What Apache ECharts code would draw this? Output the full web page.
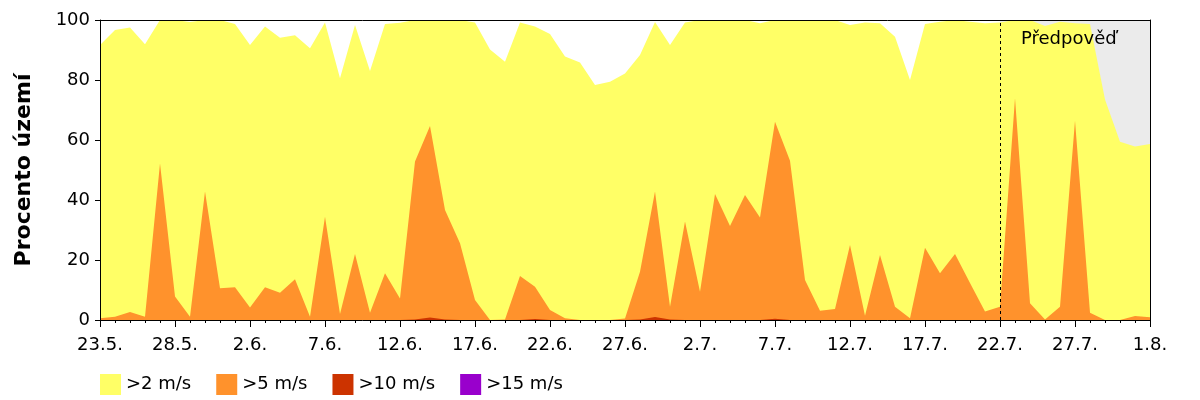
<!DOCTYPE html>
<html>
<head>
<meta charset="utf-8">
<script src="https://cdn.jsdelivr.net/npm/echarts@6/dist/echarts.min.js"></script>
<style>
  html, body { margin: 0; padding: 0; background: #fff; }
  #chart { width: 1200px; height: 400px; }
</style>
</head>
<body>
<div id="chart"></div>
<script>
// dny 23.5. - 1.8.
var dates = [
    '23.5.', '24.5.', '25.5.', '26.5.', '27.5.', '28.5.', '29.5.', '30.5.', '31.5.',
    '1.6.', '2.6.', '3.6.', '4.6.', '5.6.', '6.6.', '7.6.', '8.6.', '9.6.', '10.6.',
    '11.6.', '12.6.', '13.6.', '14.6.', '15.6.', '16.6.', '17.6.', '18.6.', '19.6.', '20.6.',
    '21.6.', '22.6.', '23.6.', '24.6.', '25.6.', '26.6.', '27.6.', '28.6.', '29.6.', '30.6.',
    '1.7.', '2.7.', '3.7.', '4.7.', '5.7.', '6.7.', '7.7.', '8.7.', '9.7.', '10.7.',
    '11.7.', '12.7.', '13.7.', '14.7.', '15.7.', '16.7.', '17.7.', '18.7.', '19.7.', '20.7.',
    '21.7.', '22.7.', '23.7.', '24.7.', '25.7.', '26.7.', '27.7.', '28.7.', '29.7.', '30.7.',
    '31.7.', '1.8.'
];
var legendNames = ['>2 m/s', '>5 m/s', '>10 m/s', '>15 m/s'];
var forecastStart = '22.7.';
var forecastEnd = '1.8.';
var forecastText = 'Předpověď';

// procento území
var over2 = [
    91.7, 96.7, 97.5, 91.9, 100, 100, 99.3, 100, 100, 98.7,
    91.7, 97.8, 94.1, 94.9, 90.6, 99.2, 80.6, 98.3, 83, 98.7,
    99.1, 100, 100, 100, 100, 99.2, 90.2, 86.1, 99.2, 97.8,
    95.3, 87.8, 85.8, 78.3, 79.4, 82.2, 88.3, 99.3, 91.7, 99.2,
    100, 100, 100, 100, 98.9, 100, 100, 100, 99.7, 100,
    98.3, 99.2, 98.9, 94.4, 80, 98.7, 99.4, 100, 99.4, 98.9,
    99.2, 100, 100, 98, 99.4, 98.9, 98.7, 73.5, 59.4, 57.8,
    58.7
];
var over5 = [
    0.6, 1.1, 2.7, 1.1, 52.2, 7.8, 1.1, 42.8, 10.6, 10.9,
    4.2, 10.9, 9.1, 13.6, 1.1, 34.4, 2, 22, 2.4, 15.6,
    7.2, 52.8, 64.7, 36.7, 25.6, 6.7, 0, 0.2, 14.7, 11.1,
    3.3, 0.6, 0, 0, 0, 0.5, 16.1, 42.8, 4.4, 32.8,
    9.4, 42, 31.3, 41.7, 34.2, 66.1, 53.1, 13.3, 3.1, 3.7,
    25, 1.4, 21.7, 4.4, 0.6, 24.1, 15.6, 22, 12.3, 2.8,
    4.4, 73.9, 5.6, 0.2, 4.4, 66.4, 2.4, 0, 0, 1.3,
    0.9
];
var over10 = [
    0, 0, 0, 0, 0, 0, 0, 0, 0, 0,
    0, 0, 0, 0, 0, 0, 0, 0, 0, 0,
    0, 0.2, 0.8, 0.2, 0, 0, 0, 0, 0, 0.3,
    0, 0, 0, 0, 0, 0, 0.2, 1.0, 0.2, 0,
    0, 0, 0, 0, 0, 0.4, 0, 0, 0, 0,
    0, 0, 0, 0, 0, 0, 0, 0, 0, 0,
    0, 0, 0, 0, 0, 0, 0, 0, 0, 0,
    0
];
var over15 = [
    0, 0, 0, 0, 0, 0, 0, 0, 0, 0,
    0, 0, 0, 0, 0, 0, 0, 0, 0, 0,
    0, 0, 0, 0, 0, 0, 0, 0, 0, 0,
    0, 0, 0, 0, 0, 0, 0, 0, 0, 0,
    0, 0, 0, 0, 0, 0, 0, 0, 0, 0,
    0, 0, 0, 0, 0, 0, 0, 0, 0, 0,
    0, 0, 0, 0, 0, 0, 0, 0, 0, 0,
    0
];

var colors = ['#ffff66', '#ff922c', '#cc3300', '#9900cc'];
var font = 'DejaVu Sans';

// plocha jedne rady
function areaSeries(name, data, color){
    return {
        name: name,
        type: 'line',
        data: data,
        showSymbol: false,
        symbol: 'none',
        silent: true,
        lineStyle: { width: 0 },
        itemStyle: { color: color },
        areaStyle: { color: color, opacity: 1 }
    };
}

var series = [
    areaSeries(legendNames[0], over2, colors[0]),
    areaSeries(legendNames[1], over5, colors[1]),
    areaSeries(legendNames[2], over10, colors[2]),
    areaSeries(legendNames[3], over15, colors[3])
];
// sede pozadi predpovedi
series[0].markArea = {
    silent: true,
    itemStyle: { color: '#ebebeb' },
    label: { show: false },
    data: [[{ xAxis: forecastStart }, { xAxis: forecastEnd }]]
};
// zacatek predpovedi
series[3].markLine = {
    silent: true,
    symbol: 'none',
    label: { show: false },
    lineStyle: { color: '#000', width: 1, type: [3, 3] },
    data: [{ xAxis: forecastStart }]
};

var chart = echarts.init(document.getElementById('chart'));
var option = {
    animation: false,
    textStyle: { fontFamily: font },
    grid: { left: 100, right: 50, top: 20, bottom: 80, outerBoundsMode: 'none' },
    legend: {
        left: 95,
        top: 369,
        icon: 'rect',
        itemWidth: 21,
        itemHeight: 21,
        itemGap: 25,
        selectedMode: false,
        textStyle: { fontFamily: font, fontSize: 18, color: '#000' },
        data: legendNames
    },
    xAxis: [
        {
            type: 'category',
            data: dates,
            position: 'bottom',
            boundaryGap: false,
            z: 10,
            axisLine: { lineStyle: { color: '#000', width: 1 } },
            axisTick: { interval: 0, length: 3, lineStyle: { color: '#000' } },
            axisLabel: { show: false },
            splitLine: { show: false }
        },
        {
            type: 'category',
            data: dates,
            position: 'bottom',
            boundaryGap: false,
            z: 10,
            axisLine: { show: false },
            axisTick: { interval: 4, length: 7, lineStyle: { color: '#000' } },
            axisLabel: { interval: 4, margin: 16, fontFamily: font, fontSize: 18, color: '#000' },
            splitLine: { show: false }
        },
        {
            type: 'category',
            data: dates,
            position: 'top',
            boundaryGap: false,
            z: 10,
            axisLine: { lineStyle: { color: '#000', width: 1 } },
            axisTick: { show: false },
            axisLabel: { show: false },
            splitLine: { show: false }
        }
    ],
    yAxis: [
        {
            type: 'value',
            min: 0,
            max: 100,
            interval: 20,
            z: 10,
            name: 'Procento území',
            nameLocation: 'middle',
            nameGap: 65,
            nameTextStyle: { fontFamily: font, fontSize: 22, fontWeight: 'bold', color: '#000' },
            axisLine: { show: true, lineStyle: { color: '#000', width: 1 } },
            axisTick: { show: true, length: 5, lineStyle: { color: '#000' } },
            axisLabel: { margin: 10, fontFamily: font, fontSize: 18, color: '#000' },
            splitLine: { show: false }
        },
        {
            type: 'value',
            position: 'right',
            min: 0,
            max: 100,
            z: 10,
            axisLine: { show: true, lineStyle: { color: '#000', width: 1 } },
            axisTick: { show: false },
            axisLabel: { show: false },
            splitLine: { show: false }
        }
    ],
    graphic: [
        {
            type: 'text',
            left: 1021,
            top: 30,
            z: 100,
            style: { text: forecastText, fontFamily: font, fontSize: 18, fill: '#000' }
        }
    ],
    series: series
};
chart.setOption(option);
</script>
</body>
</html>
